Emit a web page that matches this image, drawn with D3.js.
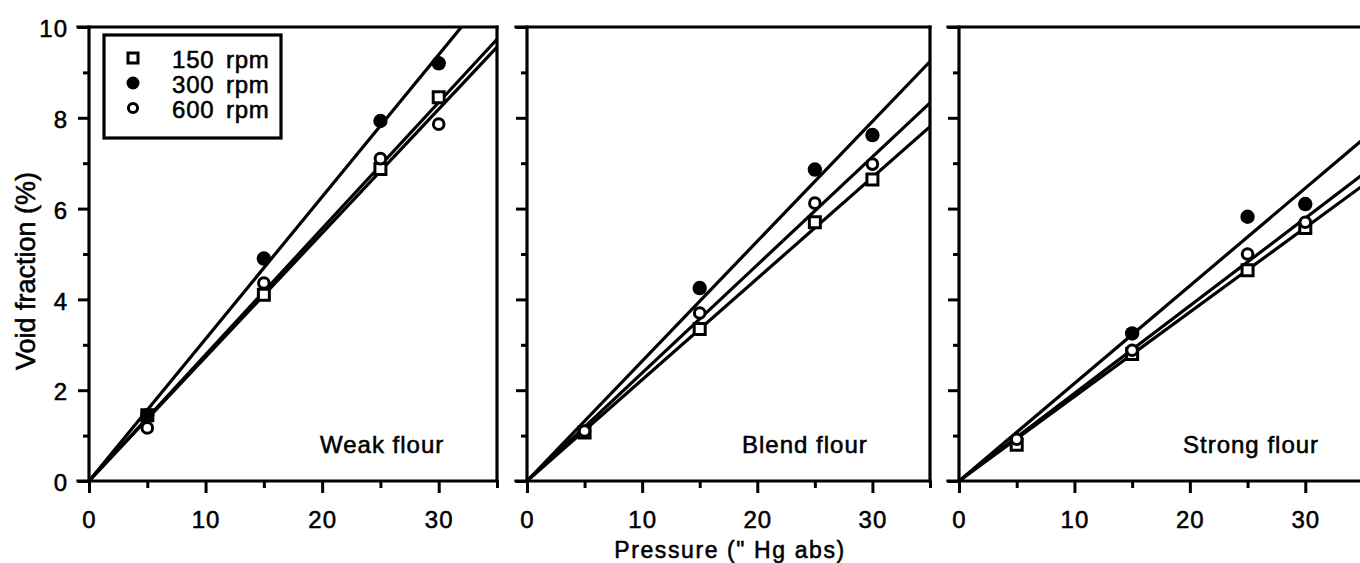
<!DOCTYPE html>
<html>
<head>
<meta charset="utf-8">
<script src="https://cdn.jsdelivr.net/npm/d3@7/dist/d3.min.js"></script>
<style>
  body { margin: 0; background: #fff; }
  text { font-family: "Liberation Sans", Arial, Helvetica, sans-serif; fill: #000; stroke: #000; stroke-width: 0.55px; }
</style>
</head>
<body>
<svg id="chart" width="1360" height="563"></svg>
<script>
// pressure settings (" Hg abs)
var pressures = [5, 15, 25, 30];
var speeds = ["150 rpm", "300 rpm", "600 rpm"];
var flours = ["Weak flour", "Blend flour", "Strong flour"];

// void fraction (%), null = not visible
var weak150 = [1.45, 4.1, 6.87, 8.45];
var weak300 = [1.45, 4.9, 7.93, 9.2];
var weak600 = [1.17, 4.36, 7.1, 7.86];
var blend150 = [1.07, 3.35, 5.7, 6.64];
var blend300 = [null, 4.25, 6.86, 7.62];
var blend600 = [1.1, 3.7, 6.12, 6.98];
var strong150 = [0.8, 2.8, 4.64, 5.57];
var strong300 = [null, 3.25, 5.82, 6.1];
var strong600 = [0.92, 2.88, 5.0, 5.7];

// slopes of the fitted lines through the origin (150, 300, 600 rpm)
var weakSlopes = [0.278, 0.313, 0.273];
var blendSlopes = [0.223, 0.264, 0.238];
var strongSlopes = [0.186, 0.215, 0.193];

var xTicks = [0, 10, 20, 30];
var xMinor = [5, 15, 25, 35];
var yTicks = [0, 2, 4, 6, 8, 10];
var yMinor = [1, 3, 5, 7, 9];

var values = [
    [weak150, weak300, weak600],
    [blend150, blend300, blend600],
    [strong150, strong300, strong600]
];
var slopes = [weakSlopes, blendSlopes, strongSlopes];

// panel placement in the page
var panels = [
    {left: 89, right: 497, labelX: 320},
    {left: 527, right: 930, labelX: 742},
    {left: 959, right: 1363, labelX: 1183}
];

var svg = d3.select("svg#chart");
var y = d3.scaleLinear().domain([0, 10]).range([481, 27]);

var markers = [
    function (g) { // open square
        g.append("path").attr("d", d3.symbol(d3.symbolSquare, 121)())
            .attr("fill", "#fff").attr("stroke", "#000").attr("stroke-width", 3);
    },
    function (g) { // filled circle
        g.append("circle").attr("r", 7.2).attr("fill", "#000");
    },
    function (g) { // open circle
        g.append("circle").attr("r", 5.3)
            .attr("fill", "#fff").attr("stroke", "#000").attr("stroke-width", 3);
    }
];

panels.forEach(function (p, i) {
    var x = d3.scaleLinear().domain([0, 35]).range([p.left, p.right]);
    var g = svg.append("g");

    // clip for the fitted lines
    svg.append("clipPath").attr("id", "clip" + i)
        .append("rect")
        .attr("x", x(0)).attr("y", y(10))
        .attr("width", x(35) - x(0)).attr("height", y(0) - y(10));

    // x axis ticks
    var xAxis = d3.axisBottom(x).tickValues(xTicks).tickSize(12).tickPadding(18)
        .tickFormat(d3.format("d"));
    var xg = g.append("g").attr("transform", "translate(0," + y(0) + ")").call(xAxis);
    var xmg = g.append("g").attr("transform", "translate(0," + y(0) + ")")
        .call(d3.axisBottom(x).tickValues(xMinor).tickSize(7).tickFormat(""));

    // y axis ticks
    var yAxis = d3.axisLeft(y).tickValues(yTicks).tickSize(11).tickPadding(10)
        .tickFormat(i === 0 ? d3.format("d") : "");
    var yg = g.append("g").attr("transform", "translate(" + x(0) + ",0)").call(yAxis);
    var ymg = g.append("g").attr("transform", "translate(" + x(0) + ",0)")
        .call(d3.axisLeft(y).tickValues(yMinor).tickSize(6).tickFormat(""));

    [xg, xmg, yg, ymg].forEach(function (a) {
        a.select(".domain").remove();
        a.selectAll(".tick line").attr("stroke", "#000").attr("stroke-width", 3);
        a.selectAll(".tick text")
            .style("font-size", "24px")
            .style("letter-spacing", "1px")
            .attr("fill", "#000");
    });
    yg.selectAll(".tick text").attr("dy", "0.4em");

    // frame
    var frame = [
        [x(0) - 11, y(0), x(35), y(0)],
        [x(0) - 11, y(10), x(35), y(10)],
        [x(0), y(10), x(0), y(0)],
        [x(35), y(10), x(35), y(0)]
    ];
    g.selectAll("line.frame").data(frame).enter().append("line")
        .attr("class", "frame")
        .attr("x1", function (d) { return d[0]; })
        .attr("y1", function (d) { return d[1]; })
        .attr("x2", function (d) { return d[2]; })
        .attr("y2", function (d) { return d[3]; })
        .attr("stroke", "#000").attr("stroke-width", 3.2)
        .attr("stroke-linecap", "square");

    // fitted lines
    var line = d3.line()
        .x(function (d) { return x(d[0]); })
        .y(function (d) { return y(d[1]); });
    slopes[i].forEach(function (s) {
        g.append("path")
            .attr("d", line([[0, 0], [35, 35 * s]]))
            .attr("clip-path", "url(#clip" + i + ")")
            .attr("fill", "none").attr("stroke", "#000").attr("stroke-width", 3.2);
    });

    // data points: squares, filled circles, then open circles
    values[i].forEach(function (series, k) {
        series.forEach(function (v, j) {
            if (v === null) return;
            var m = g.append("g")
                .attr("transform", "translate(" + x(pressures[j]) + "," + y(v) + ")");
            markers[k](m);
        });
    });

    g.append("text")
        .attr("x", p.labelX).attr("y", 453)
        .style("font-size", "24px")
        .style("letter-spacing", "1px")
        .text(flours[i]);
});

// legend
var legend = svg.append("g");
legend.append("rect")
    .attr("x", 104).attr("y", 35).attr("width", 177).attr("height", 103)
    .attr("fill", "#fff").attr("stroke", "#000").attr("stroke-width", 3.2);

var legendMarkers = [
    function (g) {
        g.append("path").attr("d", d3.symbol(d3.symbolSquare, 100)())
            .attr("fill", "#fff").attr("stroke", "#000").attr("stroke-width", 3);
    },
    function (g) { g.append("circle").attr("r", 6.5).attr("fill", "#000"); },
    function (g) {
        g.append("circle").attr("r", 4.6)
            .attr("fill", "#fff").attr("stroke", "#000").attr("stroke-width", 3);
    }
];
var rowY = d3.scalePoint().domain(speeds).range([58, 108]);
speeds.forEach(function (s, k) {
    var m = legend.append("g").attr("transform", "translate(133," + rowY(s) + ")");
    legendMarkers[k](m);
    legend.append("text")
        .attr("x", 172).attr("y", rowY(s) + 10)
        .style("font-size", "24px")
        .style("letter-spacing", "0.8px")
        .style("word-spacing", "4px")
        .text(s);
});

// axis titles
svg.append("text")
    .attr("transform", "translate(35,271) rotate(-90)")
    .style("text-anchor", "middle")
    .style("font-size", "27px")
    .text("Void fraction (%)");

svg.append("text")
    .attr("x", 730).attr("y", 558)
    .style("text-anchor", "middle")
    .style("font-size", "23px")
    .style("letter-spacing", "1.6px")
    .text("Pressure (\" Hg abs)");
</script>
</body>
</html>
